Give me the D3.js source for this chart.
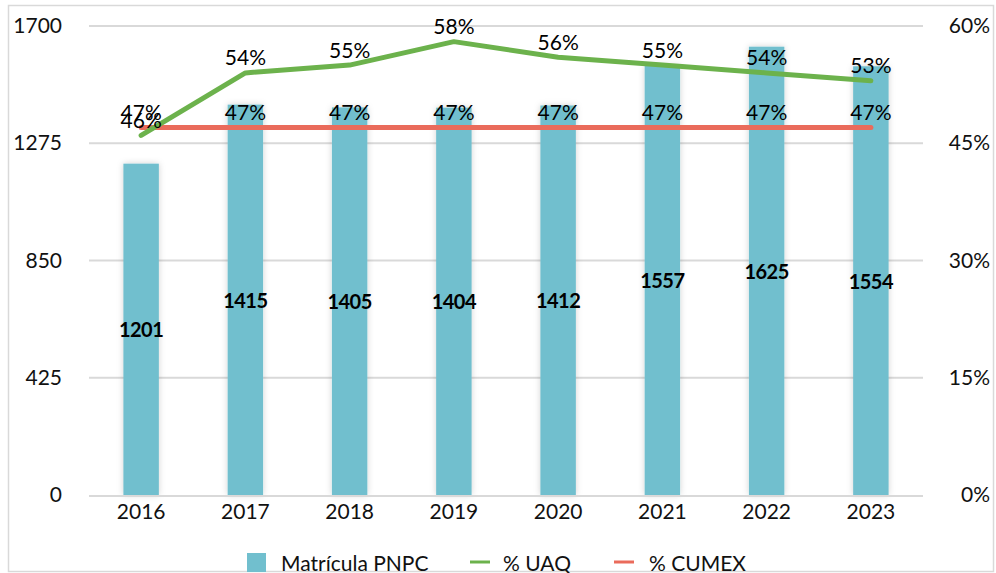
<!DOCTYPE html>
<html><head><meta charset="utf-8">
<script src="https://cdn.jsdelivr.net/npm/d3@7"></script>
<style>body{margin:0;background:#fff}svg{font-family:Lato,"Open Sans",sans-serif}</style>
</head><body><svg id="c" width="996" height="573"></svg>
<script>
const years = ["2016","2017","2018","2019","2020","2021","2022","2023"];
const matricula = [1201,1415,1405,1404,1412,1557,1625,1554];
const uaq = [46,54,55,58,56,55,54,53];
const cumex = [47,47,47,47,47,47,47,47];
const leftTicks = [0,425,850,1275,1700];
const rightTicks = [0,15,30,45,60];

const FS=21;
const svg = d3.select("#c");
const m={l:89,r:923,t:26,b:495};
svg.append("rect").attr("x",8.5).attr("y",5.5).attr("width",985).attr("height",566).attr("fill","#fff").attr("stroke","#d9d9d9").attr("stroke-width",1.5);

const defs=svg.append("defs");
const f=defs.append("filter").attr("id","sh").attr("x","-50%").attr("y","-10%").attr("width","200%").attr("height","120%");
f.append("feDropShadow").attr("dx",0).attr("dy",0).attr("stdDeviation",3).attr("flood-color","#000").attr("flood-opacity",0.18);

const x=d3.scaleBand().domain(years).range([m.l,m.r]).paddingInner(0.66).paddingOuter(0.33);
const y=d3.scaleLinear().domain([0,1700]).range([m.b,m.t]);
const y2=d3.scaleLinear().domain([0,60]).range([m.b,m.t]);

// grid
svg.append("g").selectAll("line").data(leftTicks.slice(1)).join("line")
  .attr("x1",m.l).attr("x2",m.r).attr("y1",d=>y(d)).attr("y2",d=>y(d))
  .attr("stroke","#d9d9d9").attr("stroke-width",2);

// left axis
const ga=svg.append("g").attr("transform",`translate(62,0)`).call(d3.axisLeft(y).tickValues(leftTicks).tickFormat(d=>String(d)).tickSize(0).tickPadding(0));
ga.select(".domain").remove();
ga.selectAll("text").attr("font-size",FS).attr("fill","#111").attr("font-family","Lato,sans-serif");
const gr=svg.append("g").attr("transform",`translate(990,0)`).call(d3.axisLeft(y2).tickValues(rightTicks).tickFormat(d=>d+"%").tickSize(0).tickPadding(0));
gr.select(".domain").remove();
gr.selectAll("text").attr("font-size",FS).attr("fill","#111").attr("font-family","Lato,sans-serif");

// bars
svg.append("g").selectAll("rect").data(matricula).join("rect")
  .attr("x",(d,i)=>x(years[i])).attr("width",x.bandwidth())
  .attr("y",d=>y(d)).attr("height",d=>y(0)-y(d))
  .attr("fill","#71bfce").attr("filter","url(#sh)");

// x axis line
svg.append("line").attr("x1",m.l).attr("x2",m.r).attr("y1",m.b+1).attr("y2",m.b+1).attr("stroke","#d9d9d9").attr("stroke-width",2);
const gx=svg.append("g").attr("transform",`translate(0,${m.b})`).call(d3.axisBottom(x).tickSize(0).tickPadding(9));
gx.select(".domain").remove();
gx.selectAll("text").attr("font-size",FS).attr("fill","#111").attr("font-family","Lato,sans-serif");

// bar labels
svg.append("g").selectAll("text").data(matricula).join("text")
  .attr("x",(d,i)=>x(years[i])+x.bandwidth()/2).attr("y",d=>(y(d)+y(0))/2)
  .attr("text-anchor","middle").attr("dominant-baseline","central")
  .attr("font-size",20).attr("font-weight","bold").attr("letter-spacing",-0.5).attr("fill","#000").text(d=>d);

const cx=(i)=>x(years[i])+x.bandwidth()/2;
const line=d3.line().x((d,i)=>cx(i)).y(d=>y2(d));
svg.append("path").datum(cumex).attr("d",line).attr("fill","none").attr("stroke","#ea6b5b").attr("stroke-width",5).attr("stroke-linecap","round").attr("stroke-linejoin","round");
svg.append("path").datum(uaq).attr("d",line).attr("fill","none").attr("stroke","#6cb24c").attr("stroke-width",5).attr("stroke-linecap","round").attr("stroke-linejoin","round");

function lbl(data){
  svg.append("g").selectAll("text").data(data).join("text")
   .attr("x",(d,i)=>cx(i)).attr("y",d=>y2(d)-16)
   .attr("text-anchor","middle").attr("dominant-baseline","central")
   .attr("font-size",FS).attr("fill","#000").text(d=>d+"%");
}
lbl(cumex); lbl(uaq);

// legend
const lg=svg.append("g").attr("font-size",FS).attr("fill","#111");
lg.append("rect").attr("x",247).attr("y",553).attr("width",19).attr("height",19).attr("fill","#71bfce");
lg.append("text").attr("x",281).attr("y",562).attr("dominant-baseline","central").text("Matrícula PNPC");
lg.append("line").attr("x1",470).attr("x2",490).attr("y1",562).attr("y2",562).attr("stroke","#6cb24c").attr("stroke-width",3);
lg.append("text").attr("x",503).attr("y",562).attr("dominant-baseline","central").text("% UAQ");
lg.append("line").attr("x1",614).attr("x2",634).attr("y1",562).attr("y2",562).attr("stroke","#ea6b5b").attr("stroke-width",3);
lg.append("text").attr("x",649).attr("y",562).attr("dominant-baseline","central").text("% CUMEX");
</script></body></html>
